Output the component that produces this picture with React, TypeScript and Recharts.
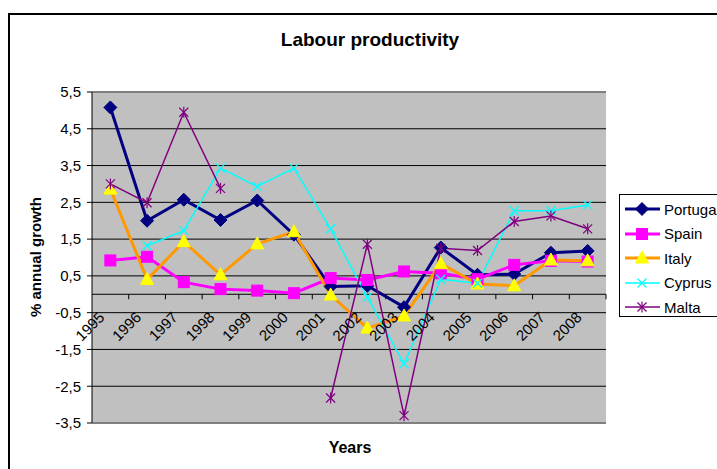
import { CartesianGrid, Line, LineChart, ReferenceLine, XAxis, YAxis } from 'recharts';

const YEARS = ['1995', '1996', '1997', '1998', '1999', '2000', '2001', '2002', '2003', '2004', '2005', '2006', '2007', '2008'];

const PORTUGAL = [5.08, 2.0, 2.57, 2.02, 2.55, 1.62, 0.21, 0.23, -0.35, 1.27, 0.53, 0.55, 1.13, 1.18];
const SPAIN = [0.92, 1.02, 0.33, 0.14, 0.1, 0.03, 0.44, 0.39, 0.62, 0.57, 0.41, 0.8, 0.91, 0.89];
const ITALY = [2.86, 0.4, 1.43, 0.53, 1.37, 1.7, -0.02, -0.92, -0.59, 0.83, 0.28, 0.23, 0.93, 0.91];
const CYPRUS = [null, 1.32, 1.73, 3.43, 2.93, 3.43, 1.78, -0.08, -1.89, 0.41, 0.3, 2.27, 2.27, 2.43];
const MALTA = [3.0, 2.49, 4.95, 2.88, null, null, -2.82, 1.36, -3.3, 1.25, 1.19, 1.98, 2.13, 1.78];

const Y_TICKS = [-3.5, -2.5, -1.5, -0.5, 0.5, 1.5, 2.5, 3.5, 4.5, 5.5];
const Y_MIN = -3.5;
const Y_MAX = 5.5;

const FONT = '"Liberation Sans", Arial, sans-serif';

// chart geometry
const CHART_W = 800;
const CHART_H = 469;
const TOP = 92;
const Y_AXIS_W = 92;
const X_AXIS_H = 46;
const RIGHT = 194;
const PLOT_W = CHART_W - Y_AXIS_W - RIGHT;
const PLOT_H = CHART_H - TOP - X_AXIS_H;
const ZERO_Y = TOP + (PLOT_H * Y_MAX) / (Y_MAX - Y_MIN);
const BAND = PLOT_W / YEARS.length;

const data = YEARS.map((year, i) => ({
  year,
  portugal: PORTUGAL[i],
  spain: SPAIN[i],
  italy: ITALY[i],
  cyprus: CYPRUS[i],
  malta: MALTA[i],
}));

type Shape = 'diamond' | 'square' | 'triangle' | 'cross' | 'star';

function Marker({ shape, cx, cy, color, fill }: { shape: Shape; cx: number; cy: number; color: string; fill: string }) {
  switch (shape) {
    case 'diamond':
      return <polygon points={`${cx},${cy - 6.5} ${cx + 6.5},${cy} ${cx},${cy + 6.5} ${cx - 6.5},${cy}`} fill={fill} stroke={color} strokeWidth={1} />;
    case 'square':
      return <rect x={cx - 5.5} y={cy - 5.5} width={11} height={11} fill={fill} stroke={color} strokeWidth={1} />;
    case 'triangle':
      return <polygon points={`${cx},${cy - 7} ${cx + 6.5},${cy + 5} ${cx - 6.5},${cy + 5}`} fill={fill} stroke={fill} strokeWidth={1} />;
    case 'cross':
      return (
        <g stroke={color} strokeWidth={1.3}>
          <line x1={cx - 4.5} y1={cy - 4.5} x2={cx + 4.5} y2={cy + 4.5} />
          <line x1={cx - 4.5} y1={cy + 4.5} x2={cx + 4.5} y2={cy - 4.5} />
        </g>
      );
    default:
      return (
        <g stroke={color} strokeWidth={1.2}>
          <line x1={cx - 4.5} y1={cy - 4.5} x2={cx + 4.5} y2={cy + 4.5} />
          <line x1={cx - 4.5} y1={cy + 4.5} x2={cx + 4.5} y2={cy - 4.5} />
          <line x1={cx} y1={cy - 5.5} x2={cx} y2={cy + 5.5} />
        </g>
      );
  }
}

const SERIES: { key: string; label: string; color: string; fill: string; width: number; shape: Shape }[] = [
  { key: 'portugal', label: 'Portugal', color: '#000080', fill: '#000080', width: 3, shape: 'diamond' },
  { key: 'spain', label: 'Spain', color: '#FF00FF', fill: '#FF00FF', width: 3, shape: 'square' },
  { key: 'italy', label: 'Italy', color: '#FF9900', fill: '#FFFF00', width: 3, shape: 'triangle' },
  { key: 'cyprus', label: 'Cyprus', color: '#00FFFF', fill: '#00FFFF', width: 1.5, shape: 'cross' },
  { key: 'malta', label: 'Malta', color: '#800080', fill: '#800080', width: 1.5, shape: 'star' },
];

// year labels hang off the zero line, with tick marks between categories
function YearTick(props: any) {
  const { x, payload } = props;
  const edge = x + BAND / 2;
  return (
    <g>
      <line x1={edge} y1={ZERO_Y} x2={edge} y2={ZERO_Y + 5} stroke="#000" />
      <text
        x={x - 5}
        y={ZERO_Y + 24}
        textAnchor="end"
        transform={`rotate(-45 ${x - 5} ${ZERO_Y + 24})`}
        fontSize={15}
        fontFamily={FONT}
        fill="#000"
      >
        {payload.value}
      </text>
    </g>
  );
}

function LegendBox() {
  return (
    <div
      style={{
        position: 'absolute',
        left: 619,
        top: 194,
        width: 120,
        height: 123,
        border: '1px solid #000',
        background: '#fff',
        boxSizing: 'border-box',
        paddingTop: 2,
      }}
    >
      {SERIES.map((s) => (
        <div key={s.key} style={{ display: 'flex', alignItems: 'center', height: 24.5 }}>
          <svg width={44} height={16} style={{ flexShrink: 0 }}>
            <line x1={5} y1={8} x2={40} y2={8} stroke={s.color} strokeWidth={s.width} />
            <Marker shape={s.shape} cx={22} cy={8} color={s.color} fill={s.fill} />
          </svg>
          <span style={{ fontSize: 15, fontFamily: FONT, color: '#000' }}>{s.label}</span>
        </div>
      ))}
    </div>
  );
}

export default function App() {
  return (
    <div
      style={{
        position: 'fixed',
        left: 0,
        top: 0,
        width: 717,
        height: 469,
        overflow: 'hidden',
        background: '#fff',
        fontFamily: FONT,
      }}
    >
      <div
        style={{
          position: 'absolute',
          left: 8,
          top: 13,
          width: 900,
          height: 600,
          border: '2px solid #000',
        }}
      />
      <div style={{ position: 'absolute', left: 0, top: 0 }}>
        <LineChart width={CHART_W} height={CHART_H} data={data} margin={{ top: TOP, right: RIGHT, bottom: 0, left: 0 }}>
          <CartesianGrid vertical={false} stroke="#000" fill="#C0C0C0" fillOpacity={1} />
          {/* grey frame of the plot area */}
          <ReferenceLine y={Y_MAX} stroke="#808080" strokeWidth={2} />
          <ReferenceLine y={Y_MIN} stroke="#808080" strokeWidth={2} />
          <XAxis
            dataKey="year"
            axisLine={false}
            tickLine={false}
            height={X_AXIS_H}
            tick={<YearTick />}
            interval={0}
            padding={{ left: BAND / 2, right: BAND / 2 }}
          />
          <YAxis
            width={Y_AXIS_W}
            domain={[Y_MIN, Y_MAX]}
            ticks={Y_TICKS}
            interval={0}
            axisLine={{ stroke: '#000' }}
            tickLine={{ stroke: '#000' }}
            tickSize={5}
            tickMargin={6}
            tick={{ fontSize: 15, fontFamily: FONT, fill: '#000' }}
            tickFormatter={(v: number) => String(v).replace('.', ',')}
          />
          <YAxis
            yAxisId="frame"
            orientation="right"
            width={0}
            domain={[Y_MIN, Y_MAX]}
            tick={false}
            tickLine={false}
            axisLine={{ stroke: '#808080', strokeWidth: 2 }}
          />
          <ReferenceLine y={0} stroke="#000" strokeWidth={1} />
          {SERIES.map((s) => (
            <Line
              key={s.key}
              dataKey={s.key}
              stroke={s.color}
              strokeWidth={s.width}
              type="linear"
              isAnimationActive={false}
              connectNulls={false}
              dot={(p: any) =>
                p.value == null || p.cy == null ? (
                  <g key={p.index} />
                ) : (
                  <Marker key={p.index} shape={s.shape} cx={p.cx} cy={p.cy} color={s.color} fill={s.fill} />
                )
              }
              activeDot={false}
            />
          ))}
        </LineChart>
      </div>
      <div
        style={{
          position: 'absolute',
          left: 370,
          top: 40,
          transform: 'translate(-50%, -50%)',
          fontSize: 19,
          fontWeight: 'bold',
          whiteSpace: 'nowrap',
        }}
      >
        Labour productivity
      </div>
      <div
        style={{
          position: 'absolute',
          left: 35,
          top: 257,
          transform: 'translate(-50%, -50%) rotate(-90deg)',
          fontSize: 15,
          fontWeight: 'bold',
          whiteSpace: 'nowrap',
        }}
      >
        % annual growth
      </div>
      <div
        style={{
          position: 'absolute',
          left: 350,
          top: 448,
          transform: 'translate(-50%, -50%)',
          fontSize: 16,
          fontWeight: 'bold',
          whiteSpace: 'nowrap',
        }}
      >
        Years
      </div>
      <LegendBox />
    </div>
  );
}
